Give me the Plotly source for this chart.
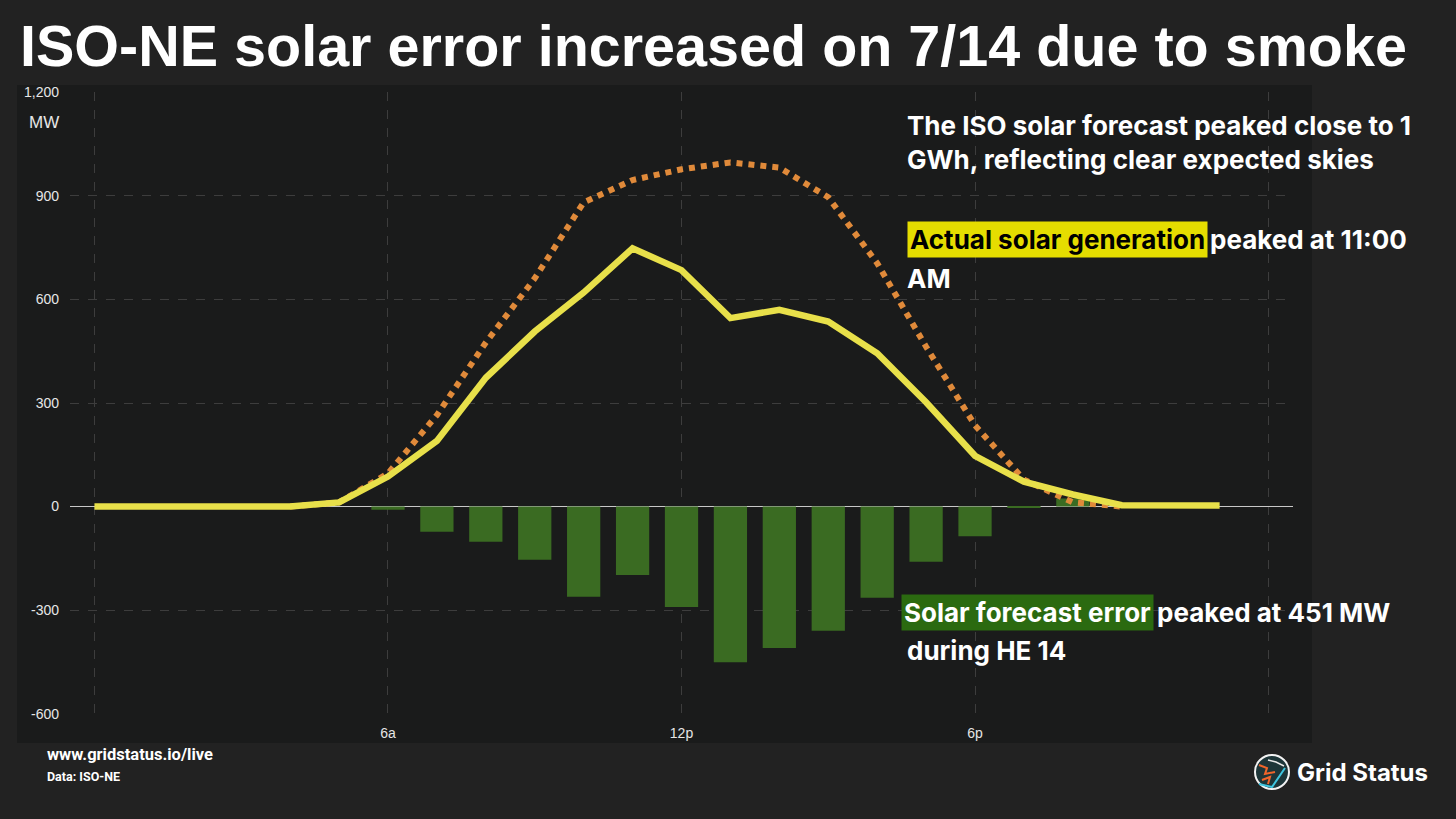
import plotly.graph_objects as go

# hourly values, 7/14 (hour ending index 0..23)
hours = list(range(24))
actual_mw = [0, 0, 0, 0, 0, 12, 87, 190, 373, 507, 620, 748, 685, 546,
             570, 536, 444, 302, 147, 72, 35, 4, 3, 3]
forecast_mw = [None, None, None, None, 0, 12, 96, 265, 475, 661, 881, 946, 977, 997,
               982, 896, 705, 463, 235, 78, 12, 0, None, None]
error_mw = [0, 0, 0, 0, 0, 0, -9, -73, -102, -154, -261, -198, -291, -451,
            -410, -360, -264, -160, -86, -2, 23, 0, 0, 0]

x_tickvals = [0, 6, 12, 18, 24]
x_ticktext = ["", "6a", "12p", "6p", ""]
y_tickvals = [-600, -300, 0, 300, 600, 900, 1200]
y_ticktext = ["-600", "-300", "0", "300", "600", "900", "1,200"]

W, H = 1456, 819
L, T, R, B = 70, 92, 163, 105
PW, PH = W - L - R, H - T - B


def px(x):
    return (x - L) / PW


def py(y):
    return (T + PH - y) / PH


fig = go.Figure()
fig.add_trace(go.Bar(x=hours, y=error_mw, marker=dict(color="#3a6b22", line=dict(width=0)),
                     width=0.68, name="Solar forecast error"))
fig.add_trace(go.Scatter(x=hours, y=forecast_mw, mode="lines", name="Forecast",
                         line=dict(color="#e08a3a", width=6, dash="dot")))
fig.add_trace(go.Scatter(x=hours, y=actual_mw, mode="lines", name="Actual",
                         line=dict(color="#e8e04a", width=6.5)))

grid = "#3d3d3d"
tick_font = dict(family="Liberation Sans", size=14, color="#e6e6e6")
fig.update_xaxes(range=[-0.5, 24.5], tickvals=x_tickvals, ticktext=x_ticktext,
                 showgrid=True, gridcolor=grid, griddash="dash", gridwidth=1,
                 zeroline=False, showline=False, ticks="", ticklabelstandoff=9,
                 tickfont=tick_font)
fig.update_yaxes(range=[-601, 1201], tickvals=y_tickvals, ticktext=y_ticktext,
                 showgrid=True, gridcolor=grid, griddash="dash", gridwidth=1,
                 zeroline=True, zerolinecolor="#c8c8c8", zerolinewidth=1,
                 showline=False, ticks="", ticklabelstandoff=10,
                 tickfont=tick_font)

white = "#ffffff"
inter = "Inter"
ann = [
    dict(text="<b>ISO-NE solar error increased on 7/14 due to smoke</b>", x=px(18), y=py(46),
         xanchor="left", yanchor="middle", font=dict(family="Liberation Sans", size=57.5, color=white)),
    dict(text="MW", x=px(61), y=py(123), xanchor="right", yanchor="middle",
         font=dict(family="Liberation Sans", size=17, color="#e6e6e6")),
    dict(text="<b>The ISO solar forecast peaked close to 1<br>GWh, reflecting clear expected skies</b>",
         x=px(905), y=py(142), xanchor="left", yanchor="middle", align="left",
         font=dict(family=inter, size=26, color=white)),
    dict(text="<b>Actual solar generation</b>", x=px(1208), y=py(240), xanchor="right",
         yanchor="middle", bgcolor="#e5dd00", borderpad=2,
         font=dict(family=inter, size=26, color="#000000")),
    dict(text="<b>peaked at 11:00</b>", x=px(1208), y=py(240), xanchor="left", yanchor="middle",
         font=dict(family=inter, size=26, color=white)),
    dict(text="<b>AM</b>", x=px(905), y=py(278), xanchor="left", yanchor="middle",
         font=dict(family=inter, size=26, color=white)),
    dict(text="<b>Solar forecast error</b>", x=px(1154), y=py(612), xanchor="right",
         yanchor="middle", bgcolor="#2b6a10", borderpad=2,
         font=dict(family=inter, size=26, color=white)),
    dict(text="<b>peaked at 451 MW</b>", x=px(1155), y=py(612), xanchor="left", yanchor="middle",
         font=dict(family=inter, size=26, color=white)),
    dict(text="<b>during HE 14</b>", x=px(905), y=py(650), xanchor="left", yanchor="middle",
         font=dict(family=inter, size=26, color=white)),
    dict(text="<b>www.gridstatus.io/live</b>", x=px(45), y=py(755), xanchor="left",
         yanchor="middle", font=dict(family="Roboto", size=16.5, color=white)),
    dict(text="<b>Data: ISO-NE</b>", x=px(45), y=py(776), xanchor="left", yanchor="middle",
         font=dict(family="Roboto", size=12.5, color=white)),
    dict(text="<b>Grid Status</b>", x=px(1295), y=py(772), xanchor="left", yanchor="middle",
         font=dict(family=inter, size=24, color=white)),
]
for a in ann:
    a.update(xref="paper", yref="paper", showarrow=False)


def path(points):
    return "M " + " L ".join(f"{px(a)},{py(b)}" for a, b in points)


shapes = [
    dict(type="rect", xref="paper", yref="paper", x0=px(17), x1=px(1312), y0=py(743), y1=py(85),
         fillcolor="#1a1b1b", line=dict(width=0), layer="below"),
    dict(type="circle", xref="paper", yref="paper", x0=px(1255), x1=px(1289), y0=py(789), y1=py(755),
         fillcolor="#1d3538", line=dict(color="#f2f2f2", width=2)),
    dict(type="path", xref="paper", yref="paper",
         path=path([(1259, 765), (1267, 768), (1265, 774), (1275, 772)]),
         line=dict(color="#f0652a", width=2)),
    dict(type="path", xref="paper", yref="paper",
         path=path([(1262, 780), (1270, 777), (1268, 784)]),
         line=dict(color="#f0652a", width=2)),
    dict(type="path", xref="paper", yref="paper",
         path=path([(1259, 784), (1272, 787), (1285, 768)]),
         line=dict(color="#3ec6e0", width=2)),
    dict(type="path", xref="paper", yref="paper",
         path=path([(1268, 760), (1276, 762), (1284, 766)]),
         line=dict(color="#e8e8e8", width=1.5)),
]

fig.update_layout(
    width=W, height=H, margin=dict(l=L, r=R, t=T, b=B),
    paper_bgcolor="#222222", plot_bgcolor="#1a1b1b",
    showlegend=False, bargap=0.3,
    annotations=ann, shapes=shapes,
)

fig.write_html("out.html", config={"displayModeBar": False},
               post_script="document.body.style.margin='0';")
